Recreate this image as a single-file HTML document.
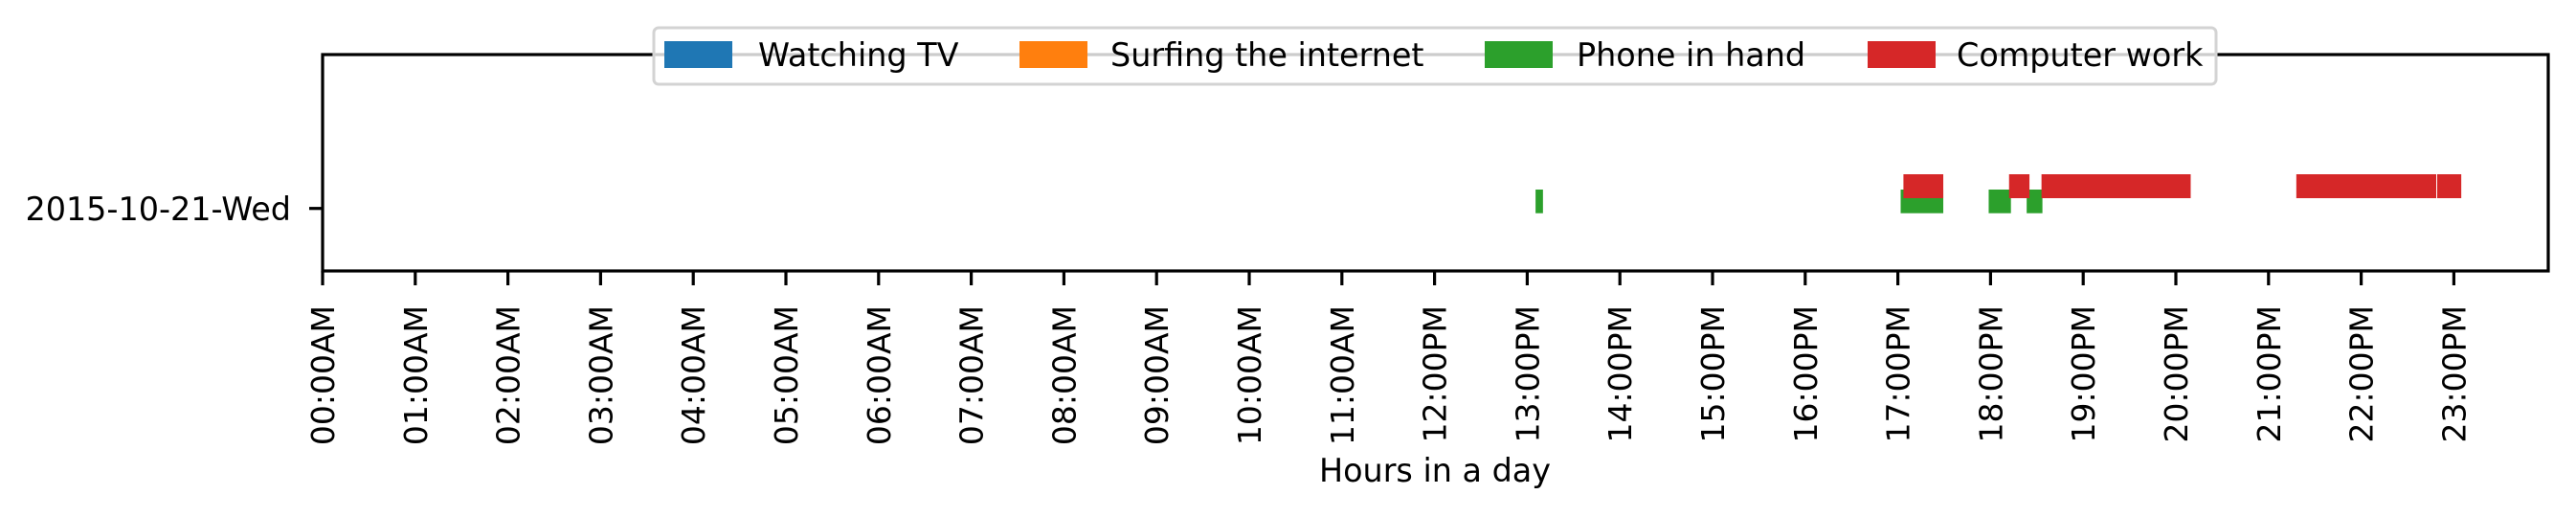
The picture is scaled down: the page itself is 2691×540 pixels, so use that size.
<!DOCTYPE html>
<html><head><meta charset="utf-8"><style>
html,body{margin:0;padding:0;background:#fff;}
svg{display:block;font-family:"DejaVu Sans","Liberation Sans",sans-serif;}
</style></head><body>
<svg id="chart" width="2691" height="540" viewBox="0 0 2691 540" xmlns="http://www.w3.org/2000/svg">
<g id="bars"></g>
<rect x="337" y="57" width="2325" height="226" fill="none" stroke="#000" stroke-width="3.2"/>
<g id="xticks"></g>
<line x1="323" y1="217.7" x2="337" y2="217.7" stroke="#000" stroke-width="3.2"/>
<text x="304" y="230" font-size="33.4" text-anchor="end">2015-10-21-Wed</text>
<text x="1499" y="503" font-size="33.4" text-anchor="middle">Hours in a day</text>
<g>
<rect x="683" y="29" width="1632" height="59" rx="5" fill="#fff" fill-opacity="0.8" stroke="#d3d3d3" stroke-width="3"/>
<g><rect x="694" y="43" width="71" height="28" fill="#1f77b4"/><text x="792" y="69" font-size="33.4">Watching TV</text></g>
<g><rect x="1065" y="43" width="71" height="28" fill="#ff7f0e"/><text x="1160" y="69" font-size="33.4">Surfing the internet</text></g>
<g><rect x="1551" y="43" width="71" height="28" fill="#2ca02c"/><text x="1647" y="69" font-size="33.4">Phone in hand</text></g>
<g><rect x="1951" y="43" width="71" height="28" fill="#d62728"/><text x="2044" y="69" font-size="33.4">Computer work</text></g>
</g>
</svg>
<script>
const hourTicks = [0,1,2,3,4,5,6,7,8,9,10,11,12,13,14,15,16,17,18,19,20,21,22,23];
const tickLabels = ["00:00AM","01:00AM","02:00AM","03:00AM","04:00AM","05:00AM","06:00AM","07:00AM","08:00AM","09:00AM","10:00AM","11:00AM","12:00PM","13:00PM","14:00PM","15:00PM","16:00PM","17:00PM","18:00PM","19:00PM","20:00PM","21:00PM","22:00PM","23:00PM"];
const phoneStarts = [13.09, 17.03, 17.98, 18.39];
const phoneEnds   = [13.17, 17.49, 18.22, 18.56];
const computerStarts = [17.06, 18.20, 18.55, 21.30, 22.82];
const computerEnds   = [17.49, 18.42, 20.16, 22.81, 23.08];

const NS = "http://www.w3.org/2000/svg";
const x0 = 337, pxPerHour = 96.8;
function xScale(h){ return x0 + h * pxPerHour; }

const bars = document.getElementById('bars');
function drawBars(starts, ends, y, h, color, name){
  for (let i = 0; i < starts.length; i++){
    const r = document.createElementNS(NS,'rect');
    r.setAttribute('x', xScale(starts[i]));
    r.setAttribute('width', xScale(ends[i]) - xScale(starts[i]));
    r.setAttribute('y', y);
    r.setAttribute('height', h);
    r.setAttribute('fill', color);
    
    
    bars.appendChild(r);
  }
}
drawBars(phoneStarts, phoneEnds, 198, 24.7, '#2ca02c', 'phone-bar');
drawBars(computerStarts, computerEnds, 182, 25, '#d62728', 'computer-bar');

const xt = document.getElementById('xticks');
for (let i = 0; i < hourTicks.length; i++){
  const x = xScale(hourTicks[i]);
  const l = document.createElementNS(NS,'line');
  l.setAttribute('x1', x); l.setAttribute('x2', x);
  l.setAttribute('y1', 283); l.setAttribute('y2', 298);
  l.setAttribute('stroke', '#000'); l.setAttribute('stroke-width', '3.2');
  
  
  xt.appendChild(l);
  const t = document.createElementNS(NS,'text');
  t.setAttribute('transform', 'translate(' + (x + 12) + ',319) rotate(-90)');
  t.setAttribute('text-anchor', 'end');
  t.setAttribute('font-size', '33');
  t.textContent = tickLabels[i];
  
  
  xt.appendChild(t);
}
</script>
</body></html>
